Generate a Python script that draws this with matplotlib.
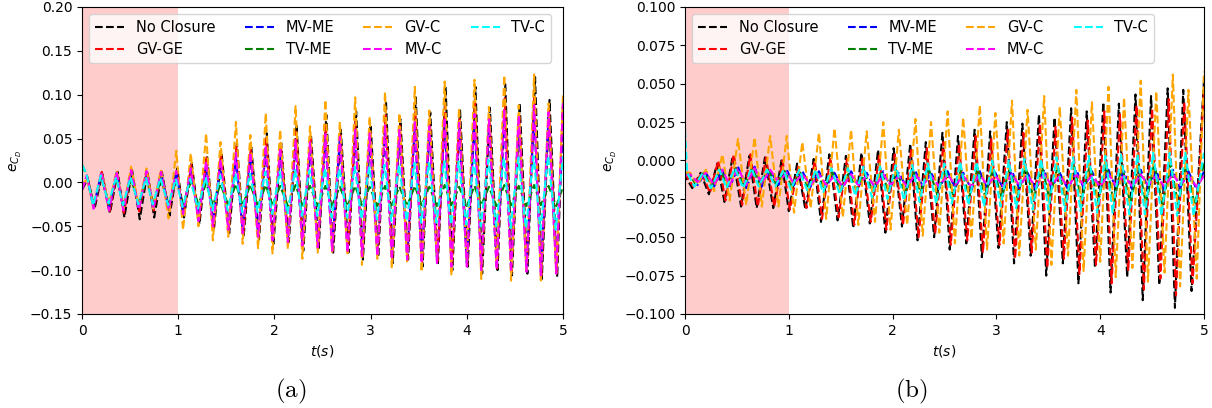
import numpy as np
import matplotlib
matplotlib.use("Agg")
import matplotlib.pyplot as plt


# times of the extrema (start, then peak/trough pairs, end)
t_ext = [0.00,
         0.05, 0.12, 0.20, 0.28, 0.36, 0.43, 0.51, 0.59, 0.67, 0.74,
         0.82, 0.90, 0.98, 1.05, 1.13, 1.21, 1.29, 1.36, 1.44, 1.52,
         1.60, 1.67, 1.75, 1.83, 1.91, 1.98, 2.06, 2.14, 2.22, 2.29,
         2.37, 2.45, 2.53, 2.60, 2.68, 2.76, 2.84, 2.91, 2.99, 3.07,
         3.15, 3.22, 3.30, 3.38, 3.46, 3.53, 3.61, 3.69, 3.77, 3.84,
         3.92, 4.00, 4.08, 4.15, 4.23, 4.31, 4.39, 4.46, 4.54, 4.62,
         4.70, 4.77, 4.85, 4.93,
         5.00]

labels = ["No Closure", "GV-GE", "MV-ME", "TV-ME", "GV-C", "MV-C", "TV-C"]
colors = ["black", "red", "blue", "green", "orange", "magenta", "cyan"]

# ---------------- panel (a) ----------------
a_lag = [0.01, 0.005, 0.0, 0.0, 0.0, 0.0, -0.005]
a_start = [-0.008, -0.008, -0.008, 0.020, -0.005, -0.008, 0.020]
a_end = [0.090, 0.085, 0.070, -0.005, 0.100, 0.090, 0.030]

a_peaks = [
    # No Closure
    [0.004, 0.010, 0.012, 0.014, 0.012, 0.012, 0.016, 0.022, 0.030, 0.034, 0.045, 0.040, 0.056, 0.045, 0.066, 0.054,
     0.077, 0.060, 0.081, 0.066, 0.092, 0.072, 0.097, 0.080, 0.108, 0.082, 0.109, 0.085, 0.112, 0.090, 0.120, 0.094],
    # GV-GE
    [0.006, 0.012, 0.012, 0.014, 0.013, 0.012, 0.014, 0.020, 0.030, 0.032, 0.042, 0.038, 0.050, 0.045, 0.058, 0.050,
     0.065, 0.055, 0.070, 0.060, 0.078, 0.065, 0.082, 0.070, 0.088, 0.072, 0.092, 0.075, 0.096, 0.078, 0.100, 0.082],
    # MV-ME
    [0.006, 0.010, 0.011, 0.012, 0.012, 0.012, 0.012, 0.014, 0.020, 0.022, 0.028, 0.030, 0.036, 0.036, 0.042, 0.042,
     0.048, 0.048, 0.054, 0.052, 0.058, 0.056, 0.062, 0.060, 0.066, 0.064, 0.070, 0.066, 0.074, 0.070, 0.078, 0.074],
    # TV-ME
    [0.008, 0.006, 0.005, 0.004, 0.004, 0.003, 0.002, 0.000, -0.001, -0.002, -0.002, -0.003, -0.003, -0.004, -0.003, -0.004,
     -0.004, -0.005, -0.004, -0.005, -0.004, -0.005, -0.004, -0.005, -0.003, -0.005, -0.004, -0.005, -0.003, -0.004, -0.003, -0.004],
    # GV-C
    [0.005, 0.012, 0.013, 0.018, 0.016, 0.015, 0.036, 0.033, 0.056, 0.046, 0.069, 0.054, 0.079, 0.060, 0.087, 0.064,
     0.094, 0.069, 0.097, 0.075, 0.103, 0.079, 0.109, 0.082, 0.115, 0.085, 0.117, 0.086, 0.122, 0.088, 0.123, 0.090],
    # MV-C
    [0.008, 0.012, 0.012, 0.014, 0.013, 0.012, 0.013, 0.016, 0.024, 0.026, 0.034, 0.034, 0.042, 0.040, 0.048, 0.046,
     0.055, 0.052, 0.060, 0.056, 0.065, 0.060, 0.070, 0.064, 0.074, 0.068, 0.078, 0.072, 0.082, 0.076, 0.088, 0.080],
    # TV-C
    [0.010, 0.008, 0.006, 0.006, 0.005, 0.005, 0.004, 0.004, 0.006, 0.008, 0.010, 0.010, 0.012, 0.012, 0.014, 0.014,
     0.016, 0.016, 0.018, 0.018, 0.020, 0.020, 0.022, 0.022, 0.024, 0.024, 0.026, 0.026, 0.028, 0.028, 0.030, 0.030],
]

a_troughs = [
    [-0.030, -0.035, -0.040, -0.042, -0.040, -0.038, -0.040, -0.048, -0.055, -0.058, -0.062, -0.065, -0.070, -0.068, -0.078, -0.075,
     -0.082, -0.080, -0.088, -0.085, -0.092, -0.088, -0.096, -0.092, -0.100, -0.096, -0.104, -0.100, -0.106, -0.104, -0.110, -0.108],
    [-0.028, -0.034, -0.035, -0.033, -0.032, -0.034, -0.038, -0.045, -0.052, -0.055, -0.060, -0.062, -0.066, -0.066, -0.072, -0.072,
     -0.078, -0.077, -0.084, -0.082, -0.088, -0.086, -0.092, -0.090, -0.096, -0.094, -0.100, -0.098, -0.102, -0.100, -0.106, -0.104],
    [-0.028, -0.030, -0.030, -0.030, -0.030, -0.030, -0.034, -0.040, -0.046, -0.050, -0.055, -0.058, -0.062, -0.064, -0.068, -0.070,
     -0.074, -0.075, -0.080, -0.080, -0.084, -0.084, -0.088, -0.088, -0.092, -0.092, -0.096, -0.095, -0.098, -0.098, -0.102, -0.100],
    [-0.026, -0.025, -0.026, -0.025, -0.024, -0.024, -0.024, -0.025, -0.026, -0.026, -0.026, -0.027, -0.026, -0.027, -0.026, -0.027,
     -0.026, -0.027, -0.026, -0.027, -0.026, -0.027, -0.026, -0.027, -0.026, -0.027, -0.026, -0.027, -0.026, -0.027, -0.026, -0.027],
    [-0.028, -0.025, -0.030, -0.028, -0.030, -0.041, -0.054, -0.050, -0.066, -0.062, -0.070, -0.075, -0.081, -0.076, -0.087, -0.080,
     -0.081, -0.083, -0.094, -0.087, -0.098, -0.090, -0.102, -0.088, -0.106, -0.092, -0.110, -0.095, -0.112, -0.100, -0.114, -0.104],
    [-0.030, -0.032, -0.032, -0.031, -0.030, -0.031, -0.036, -0.044, -0.050, -0.054, -0.058, -0.062, -0.066, -0.068, -0.072, -0.074,
     -0.078, -0.080, -0.084, -0.084, -0.088, -0.088, -0.092, -0.092, -0.096, -0.096, -0.100, -0.099, -0.102, -0.102, -0.106, -0.104],
    [-0.026, -0.024, -0.026, -0.025, -0.025, -0.026, -0.028, -0.030, -0.032, -0.032, -0.034, -0.034, -0.036, -0.036, -0.038, -0.038,
     -0.040, -0.040, -0.042, -0.042, -0.044, -0.044, -0.046, -0.046, -0.048, -0.048, -0.050, -0.050, -0.052, -0.052, -0.054, -0.054],
]

# ---------------- panel (b) ----------------
b_lag = [-0.05, -0.04, 0.0, -0.02, 0.0, 0.0, -0.03]
b_start = [-0.008, -0.008, -0.008, -0.008, -0.008, -0.010, 0.020]
b_end = [0.052, 0.045, -0.007, -0.002, 0.058, -0.010, 0.005]

b_peaks = [
    [-0.010, -0.008, -0.002, 0.003, 0.003, 0.002, 0.000, -0.002, 0.001, 0.004, 0.003, 0.005, 0.007, 0.008, 0.011, 0.012,
     0.018, 0.016, 0.020, 0.019, 0.025, 0.024, 0.030, 0.028, 0.034, 0.032, 0.038, 0.037, 0.043, 0.042, 0.047, 0.046],
    [-0.010, -0.008, 0.000, 0.004, 0.004, 0.002, 0.000, -0.004, 0.000, 0.002, 0.001, 0.002, 0.004, 0.004, 0.008, 0.008,
     0.012, 0.011, 0.016, 0.014, 0.020, 0.018, 0.024, 0.022, 0.028, 0.026, 0.032, 0.030, 0.036, 0.034, 0.040, 0.038],
    [-0.010, -0.008, -0.006, -0.004, -0.004, -0.006, -0.006, -0.007, -0.007, -0.008, -0.007, -0.008, -0.007, -0.008, -0.007, -0.008,
     -0.007, -0.008, -0.007, -0.008, -0.007, -0.008, -0.006, -0.008, -0.006, -0.007, -0.006, -0.007, -0.006, -0.007, -0.006, -0.007],
    [-0.008, -0.008, -0.006, -0.005, -0.005, -0.006, -0.007, -0.008, -0.008, -0.008, -0.008, -0.008, -0.007, -0.007, -0.007, -0.006,
     -0.006, -0.006, -0.005, -0.005, -0.005, -0.004, -0.004, -0.004, -0.004, -0.003, -0.003, -0.003, -0.003, -0.002, -0.002, -0.002],
    [-0.008, -0.006, 0.004, 0.014, 0.015, 0.016, 0.016, 0.012, 0.018, 0.021, 0.020, 0.019, 0.025, 0.020, 0.027, 0.025,
     0.032, 0.028, 0.036, 0.031, 0.039, 0.033, 0.042, 0.035, 0.046, 0.038, 0.048, 0.041, 0.052, 0.045, 0.056, 0.046],
    [-0.009, -0.008, -0.006, -0.005, -0.005, -0.006, -0.008, -0.009, -0.009, -0.010, -0.009, -0.010, -0.009, -0.010, -0.009, -0.010,
     -0.009, -0.010, -0.009, -0.010, -0.009, -0.010, -0.009, -0.010, -0.009, -0.010, -0.009, -0.010, -0.009, -0.010, -0.009, -0.010],
    [-0.008, -0.008, -0.006, -0.005, -0.005, -0.006, -0.006, -0.006, -0.006, -0.005, -0.005, -0.004, -0.004, -0.003, -0.003, -0.002,
     -0.002, -0.001, -0.001, 0.000, 0.000, 0.001, 0.001, 0.002, 0.002, 0.003, 0.003, 0.004, 0.004, 0.005, 0.005, 0.005],
]

b_troughs = [
    [-0.018, -0.022, -0.027, -0.030, -0.031, -0.031, -0.033, -0.032, -0.040, -0.039, -0.044, -0.041, -0.047, -0.043, -0.052, -0.050,
     -0.058, -0.054, -0.063, -0.057, -0.067, -0.062, -0.075, -0.067, -0.080, -0.070, -0.086, -0.076, -0.091, -0.081, -0.096, -0.085],
    [-0.017, -0.021, -0.026, -0.029, -0.030, -0.030, -0.032, -0.031, -0.038, -0.037, -0.042, -0.040, -0.045, -0.042, -0.050, -0.048,
     -0.055, -0.052, -0.060, -0.055, -0.064, -0.060, -0.070, -0.064, -0.074, -0.068, -0.080, -0.072, -0.084, -0.077, -0.088, -0.080],
    [-0.016, -0.017, -0.018, -0.018, -0.017, -0.016, -0.016, -0.017, -0.017, -0.018, -0.017, -0.018, -0.017, -0.018, -0.017, -0.018,
     -0.018, -0.019, -0.018, -0.019, -0.018, -0.019, -0.018, -0.019, -0.018, -0.019, -0.018, -0.019, -0.018, -0.019, -0.018, -0.019],
    [-0.015, -0.016, -0.017, -0.017, -0.016, -0.016, -0.017, -0.018, -0.018, -0.019, -0.019, -0.020, -0.020, -0.021, -0.021, -0.022,
     -0.022, -0.023, -0.023, -0.024, -0.024, -0.025, -0.025, -0.026, -0.026, -0.027, -0.027, -0.028, -0.028, -0.029, -0.029, -0.029],
    [-0.016, -0.020, -0.026, -0.029, -0.030, -0.030, -0.034, -0.031, -0.038, -0.037, -0.042, -0.040, -0.045, -0.042, -0.049, -0.047,
     -0.054, -0.051, -0.058, -0.054, -0.062, -0.058, -0.068, -0.062, -0.072, -0.066, -0.076, -0.070, -0.079, -0.073, -0.082, -0.077],
    [-0.014, -0.016, -0.016, -0.016, -0.015, -0.014, -0.015, -0.016, -0.016, -0.017, -0.016, -0.017, -0.016, -0.017, -0.016, -0.017,
     -0.016, -0.017, -0.016, -0.017, -0.016, -0.017, -0.016, -0.017, -0.016, -0.017, -0.016, -0.017, -0.016, -0.017, -0.016, -0.017],
    [-0.017, -0.018, -0.018, -0.018, -0.017, -0.017, -0.019, -0.020, -0.021, -0.022, -0.023, -0.024, -0.025, -0.026, -0.027, -0.028,
     -0.028, -0.029, -0.030, -0.030, -0.031, -0.032, -0.032, -0.033, -0.033, -0.034, -0.034, -0.035, -0.035, -0.036, -0.036, -0.036],
]


def build(start, peaks, troughs, end):
    # start, alternating peak / trough, end
    vals = [start]
    for p, q in zip(peaks, troughs):
        vals += [p, q]
    vals.append(end)
    return vals


def panel(ax, lags, starts, peaks, troughs, ends, ylim):
    ax.axvspan(0, 1, color="red", alpha=0.2, lw=0)
    for i in range(len(labels)):
        y = build(starts[i], peaks[i], troughs[i], ends[i])
        # shift the inner extrema by the phase lag of the series, keep the ends on 0 and 5
        t = [t_ext[0]] + [tt + lags[i] for tt in t_ext[1:-1]] + [t_ext[-1]]
        ax.plot(t, y, "--", color=colors[i], lw=1.5, label=labels[i])
    ax.set_xlim([0, 5])
    ax.set_ylim(ylim)
    ax.set_xlabel("$t(s)$")
    ax.set_ylabel("$e_{C_D}$")
    ax.legend(loc="upper left", ncol=4, fontsize=10.5)


fig = plt.figure(figsize=(12.12, 4.08), dpi=100)
ax1 = fig.add_axes([0.0677, 0.2304, 0.3968, 0.7525])
ax2 = fig.add_axes([0.5652, 0.2304, 0.4282, 0.7525])

panel(ax1, a_lag, a_start, a_peaks, a_troughs, a_end, [-0.15, 0.20])
panel(ax2, b_lag, b_start, b_peaks, b_troughs, b_end, [-0.10, 0.10])

fig.text(0.240, 0.040, r"$\mathrm{(a)}$", ha="center", va="center", fontsize=18, math_fontfamily="cm")
fig.text(0.752, 0.040, r"$\mathrm{(b)}$", ha="center", va="center", fontsize=18, math_fontfamily="cm")

plt.savefig("out.png", dpi=100)
